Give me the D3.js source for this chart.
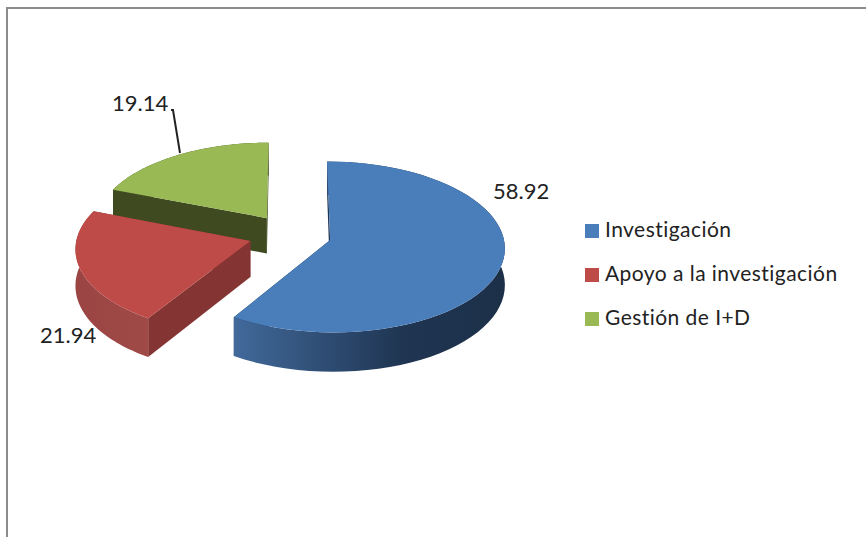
<!DOCTYPE html>
<meta charset="utf-8">
<style>
  body { margin: 0; background: #fff; }
  text { font-family: Lato, "Open Sans", sans-serif; fill: #222; }
</style>
<script src="https://d3js.org/d3.v7.min.js"></script>
<div id="chart"></div>
<script>

var categories = ["Investigación", "Apoyo a la investigación", "Gestión de I+D"];
var values = [58.92, 21.94, 19.14];
var topColors = ["#4a7ebb", "#be4b48", "#98b954"];
var wallColors = ["#1f3552", "#843433", "#3f4a20"];

var width = 866, height = 537;

// pie layout, tilted by hand below
var cx = 290, cy = 234.5, rx = 173, ry = 84;
var k = 0.08, depth = 36, explode = 0.24;

var svg = d3.select("#chart").append("svg")
  .attr("width", width)
  .attr("height", height)
  .style("display", "block");

var defs = svg.append("defs");

// outer wall shading of the blue slice
var gradBlue = defs.append("linearGradient")
  .attr("id", "wall0")
  .attr("gradientUnits", "userSpaceOnUse")
  .attr("x1", 235).attr("x2", 505).attr("y1", 0).attr("y2", 0);
gradBlue.append("stop").attr("offset", "0").attr("stop-color", "#41699a");
gradBlue.append("stop").attr("offset", "0.62").attr("stop-color", "#1f3552");
gradBlue.append("stop").attr("offset", "1").attr("stop-color", "#1c3048");

var gradRed = defs.append("linearGradient")
  .attr("id", "wall1")
  .attr("gradientUnits", "userSpaceOnUse")
  .attr("x1", 75).attr("x2", 148).attr("y1", 0).attr("y2", 0);
gradRed.append("stop").attr("offset", "0").attr("stop-color", "#9a4443");
gradRed.append("stop").attr("offset", "1").attr("stop-color", "#a04a48");

// chart frame, only top and left show
svg.append("path")
  .attr("d", "M7,537V8H866")
  .attr("fill", "none")
  .attr("stroke", "#8c8c8c")
  .attr("stroke-width", 2);

var pie = d3.pie().sort(null);
var arcs = pie(values);

// ground plane -> screen, with a little perspective
function project(u, v, drop) {
  var s = 1 / (1 - k * v);
  return [cx + rx * u * s, cy + ry * v * s + (drop ? depth * s : 0)];
}

function slicePoints(d) {
  var mid = (d.startAngle + d.endAngle) / 2;
  var ox = explode * Math.sin(mid), oy = -explode * Math.cos(mid);
  var steps = d3.range(0, 61).map(function(i) {
    var a = d.startAngle + (d.endAngle - d.startAngle) * i / 60;
    return [ox + Math.sin(a), oy - Math.cos(a)];
  });
  return {apex: [ox, oy], rim: steps};
}

var line = d3.line();

// back to front: green, red, blue
[2, 1, 0].forEach(function(i) {
  var p = slicePoints(arcs[i]);
  var rim = p.rim;
  var apexTop = project(p.apex[0], p.apex[1], false);
  var apexLow = project(p.apex[0], p.apex[1], true);
  var g = svg.append("g");

  // the two cut faces
  [rim[0], rim[rim.length - 1]].forEach(function(e) {
    g.append("path")
      .attr("d", line([apexTop, project(e[0], e[1], false), project(e[0], e[1], true), apexLow]) + "Z")
      .attr("fill", wallColors[i]);
  });

  // outer wall
  var wallTop = rim.map(function(e) { return project(e[0], e[1], false); });
  var wallLow = rim.map(function(e) { return project(e[0], e[1], true); }).reverse();
  g.append("path")
    .attr("d", line(wallTop.concat(wallLow)) + "Z")
    .attr("fill", i == 2 ? wallColors[2] : "url(#wall" + i + ")");

  // top face
  g.append("path")
    .attr("d", line([apexTop].concat(wallTop)) + "Z")
    .attr("fill", topColors[i]);
});

// leader line for 19.14
svg.append("path")
  .attr("d", "M171,110H173L180,153")
  .attr("fill", "none")
  .attr("stroke", "#222")
  .attr("stroke-width", 2);

// value labels
var labelX = [493, 40, 112];
var labelY = [199, 343, 111];
values.forEach(function(v, i) {
  svg.append("text")
    .attr("x", labelX[i])
    .attr("y", labelY[i])
    .attr("font-size", 22)
    .text(v);
});

// legend
var legendY = d3.scalePoint().domain(categories).range([224, 312]);
var legend = svg.selectAll(".legend").data(categories).enter().append("g")
  .attr("class", "legend")
  .attr("transform", function(d) { return "translate(585," + legendY(d) + ")"; });
legend.append("rect")
  .attr("width", 14)
  .attr("height", 14)
  .attr("fill", function(d, i) { return topColors[i]; });
legend.append("text")
  .attr("x", 20)
  .attr("y", 13)
  .attr("font-size", 21)
  .attr("letter-spacing", 0.45)
  .text(function(d) { return d; });

</script>
